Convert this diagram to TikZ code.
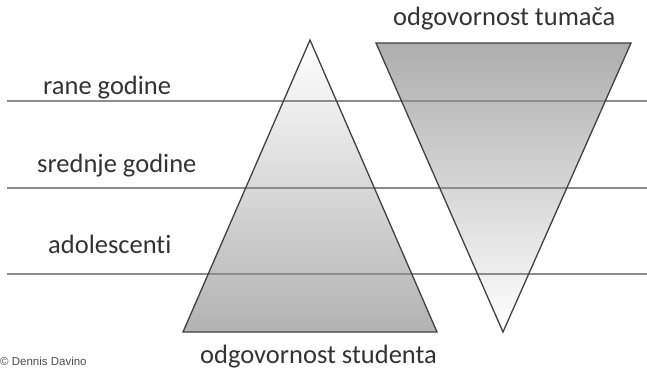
\documentclass[tikz,border=0pt]{standalone}
\usepackage{fontspec}
\setmainfont{Carlito}[Ligatures={NoCommon}]
\newfontfamily\creditfont{Liberation Sans}
\usetikzlibrary{positioning}
\tikzset{
  agelabel/.style = {anchor=base west, inner sep=0pt, font=\fontsize{26.5}{30}\selectfont, text=black!80},
  resplabel/.style= {anchor=base west, inner sep=0pt, font=\fontsize{26.5}{30}\selectfont, text=black!80},
  agerule/.style  = {draw=black!45, line width=1.4pt},
  tri/.style      = {draw=black!75, line width=1.3pt, line join=miter},
}

\begin{document}
\begin{tikzpicture}[x=1pt, y=-1pt]

  \useasboundingbox (0,0) rectangle (647,369);

  % ── Triangles ───────────────────────────────────────────────────
  \coordinate (stTop) at (310,40);
  \coordinate (stL)   at (183,332);
  \coordinate (stR)   at (437,332);
  \shade[top color=white, bottom color=black!30]
    (stTop) -- (stR) -- (stL) -- cycle;

  \coordinate (tuL)   at (376,43);
  \coordinate (tuR)   at (631,43);
  \coordinate (tuBot) at (503,332);
  \shade[top color=black!32, bottom color=white]
    (tuL) -- (tuR) -- (tuBot) -- cycle;

  % ── Age rules ──────────────────────────────────────────────────
  \foreach \yy/\nm in {101/rA, 188/rB, 274/rC} {
    \coordinate (\nm w) at (7,\yy);
    \coordinate (\nm e) at (647,\yy);
    \draw[agerule] (\nm w) -- (\nm e);
  }

  \draw[tri] (stTop) -- (stR) -- (stL) -- cycle;
  \draw[tri] (tuL) -- (tuR) -- (tuBot) -- cycle;

  % ── Labels ──────────────────────────────────────────────────────
  \node[agelabel] (rane)  at (43,94)  {rane godine};
  \node[agelabel] (sred)  at (37,172) {srednje godine};
  \node[agelabel] (adol)  at (48,253) {adolescenti};

  \node[resplabel] (tum)  at (393,26)  {odgovornost tumača};
  \node[resplabel] (stud) at (200,363) {odgovornost studenta};

  \node[anchor=base west, inner sep=0pt, text=black!70,
        font=\creditfont\fontsize{11.5}{12}\selectfont] (credit) at (0,365)
    {© Dennis Davino};

\end{tikzpicture}
\end{document}
